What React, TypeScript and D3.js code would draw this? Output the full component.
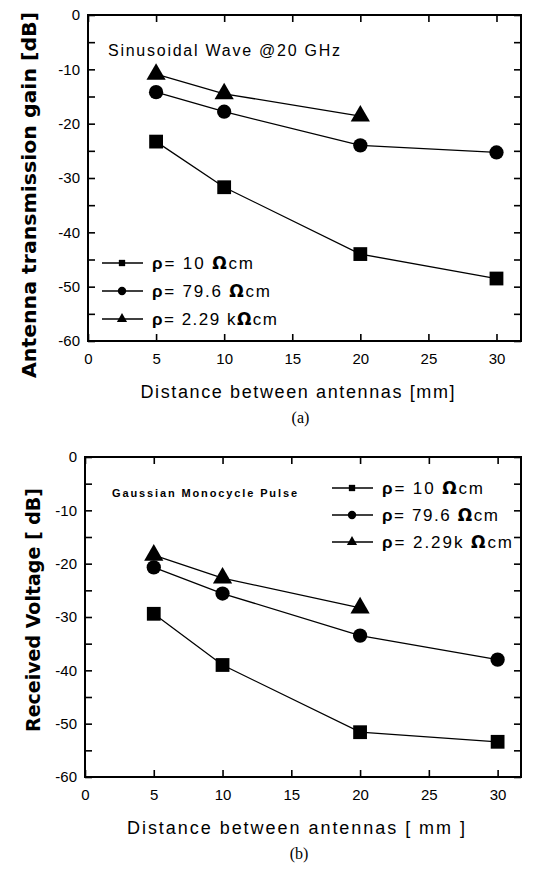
import React, { useEffect, useRef } from "react";
import * as d3 from "d3";

// distances [mm]
const distances = [5, 10, 20, 30];
const distancesShort = [5, 10, 20];
const xTicks = [0, 5, 10, 15, 20, 25, 30];
const yTicks = [0, -5, -10, -15, -20, -25, -30, -35, -40, -45, -50, -55, -60];

// (a) antenna transmission gain [dB]
const gainLow = [-23.3, -31.7, -44.0, -48.5];
const gainMid = [-14.2, -17.8, -24.0, -25.3];
const gainHigh = [-10.9, -14.5, -18.6];

// (b) received voltage [dB]
const voltLow = [-29.4, -39.0, -51.6, -53.4];
const voltMid = [-20.7, -25.6, -33.5, -38.0];
const voltHigh = [-18.4, -22.7, -28.3];

const legendA = [
  ["= 10 ", "cm"],
  ["= 79.6 ", "cm"],
  ["= 2.29 k", "cm"],
];
const legendB = [
  ["= 10 ", "cm"],
  ["= 79.6 ", "cm"],
  ["= 2.29k ", "cm"],
];

const FONT = "'DejaVu Sans', 'Liberation Sans', Arial, sans-serif";
const TICKFONT = "'Liberation Sans', Arial, sans-serif";

type Panel = {
  box: { left: number; right: number; top: number; bottom: number };
  xMax: number;
  low: number[];
  mid: number[];
  high: number[];
  yLabel: string;
  yLabelX: number;
  yLabelY: number;
  yLabelLen: number;
  xLabel: string;
  xLabelY: number;
  xLabelLen: number;
  tag: string;
  tagY: number;
  note: string;
  noteX: number;
  noteY: number;
  noteLen: number;
  noteBold: boolean;
  noteSize: number;
  legend: string[][];
  legendLens: number[];
  legendX: number;
  legendY: number;
  legendGap: number;
};

const panels: Panel[] = [
  {
    box: { left: 88, right: 521, top: 15, bottom: 341 },
    xMax: 31.8,
    low: gainLow,
    mid: gainMid,
    high: gainHigh,
    yLabel: "Antenna transmission gain [dB]",
    yLabelX: 36,
    yLabelY: 195,
    yLabelLen: 366,
    xLabel: "Distance between antennas [mm]",
    xLabelY: 398,
    xLabelLen: 314,
    tag: "(a)",
    tagY: 423,
    note: "Sinusoidal Wave @20 GHz",
    noteX: 108,
    noteY: 56,
    noteLen: 232,
    noteBold: false,
    noteSize: 16,
    legend: legendA,
    legendLens: [101, 118, 125],
    legendX: 102,
    legendY: 263,
    legendGap: 28,
  },
  {
    box: { left: 85, right: 521, top: 457, bottom: 777 },
    xMax: 31.7,
    low: voltLow,
    mid: voltMid,
    high: voltHigh,
    yLabel: "Received Voltage [ dB]",
    yLabelX: 40,
    yLabelY: 610,
    yLabelLen: 244,
    xLabel: "Distance between antennas [ mm ]",
    xLabelY: 834,
    xLabelLen: 338,
    tag: "(b)",
    tagY: 859,
    note: "Gaussian Monocycle Pulse",
    noteX: 112,
    noteY: 497,
    noteLen: 185,
    noteBold: true,
    noteSize: 11,
    legend: legendB,
    legendLens: [101, 116, 130],
    legendX: 332,
    legendY: 488,
    legendGap: 27,
  },
];

const drawPanel = (svg: d3.Selection<SVGSVGElement, unknown, null, undefined>, p: Panel) => {
  const { left, right, top, bottom } = p.box;
  const x = d3.scaleLinear().domain([0, p.xMax]).range([left, right]);
  const y = d3.scaleLinear().domain([0, -60]).range([top, bottom]);
  const g = svg.append("g");

  const styleAxis = (sel: any) => {
    sel.select(".domain").remove();
    sel.selectAll("line").attr("stroke", "#000").attr("stroke-width", 1.6);
    sel.selectAll("text").attr("fill", "#000").style("font-family", TICKFONT).style("font-size", "15px");
  };

  g.append("g")
    .attr("transform", `translate(${left},0)`)
    .call(
      d3.axisLeft(y).tickValues(yTicks).tickSize(-7).tickSizeOuter(0).tickPadding(8)
        .tickFormat((d: any) => (d % 10 === 0 ? String(d) : ""))
    )
    .call(styleAxis);
  g.append("g")
    .attr("transform", `translate(${right},0)`)
    .call(d3.axisRight(y).tickValues(yTicks).tickSize(-7).tickSizeOuter(0).tickFormat(() => ""))
    .call(styleAxis);
  g.append("g")
    .attr("transform", `translate(0,${bottom})`)
    .call(d3.axisBottom(x).tickValues(xTicks).tickSize(-7).tickSizeOuter(0).tickPadding(12).tickFormat(d3.format("d")))
    .call(styleAxis);
  g.append("g")
    .attr("transform", `translate(0,${top})`)
    .call(d3.axisTop(x).tickValues(xTicks).tickSize(-7).tickSizeOuter(0).tickFormat(() => ""))
    .call(styleAxis);

  g.append("rect")
    .attr("x", left)
    .attr("y", top)
    .attr("width", right - left)
    .attr("height", bottom - top)
    .attr("fill", "none")
    .attr("stroke", "#000")
    .attr("stroke-width", 2);

  const line = d3.line<[number, number]>().x((d) => x(d[0])).y((d) => y(d[1]));
  const series = [
    { xs: distances, ys: p.low, sym: d3.symbolSquare, size: 190 },
    { xs: distances, ys: p.mid, sym: d3.symbolCircle, size: 160 },
    { xs: distancesShort, ys: p.high, sym: d3.symbolTriangle, size: 160 },
  ];
  series.forEach((s) => {
    const pts = s.xs.map((d, i) => [d, s.ys[i]] as [number, number]);
    g.append("path").attr("d", line(pts)).attr("fill", "none").attr("stroke", "#000").attr("stroke-width", 1.3);
    g.selectAll(null)
      .data(pts)
      .join("path")
      .attr("transform", (d) => `translate(${x(d[0])},${y(d[1])})`)
      .attr("d", d3.symbol().type(s.sym).size(s.size)())
      .attr("fill", "#000");
  });

  // legend
  const legSyms = [
    { sym: d3.symbolSquare, size: 40 },
    { sym: d3.symbolCircle, size: 55 },
    { sym: d3.symbolTriangle, size: 45 },
  ];
  p.legend.forEach((row, i) => {
    const ly = p.legendY + i * p.legendGap;
    g.append("line").attr("x1", p.legendX).attr("x2", p.legendX + 41).attr("y1", ly).attr("y2", ly)
      .attr("stroke", "#000").attr("stroke-width", 1.5);
    g.append("path").attr("transform", `translate(${p.legendX + 20},${ly})`)
      .attr("d", d3.symbol().type(legSyms[i].sym).size(legSyms[i].size)()).attr("fill", "#000");
    const t = g.append("text").attr("x", p.legendX + 50).attr("y", ly + 6)
      .attr("textLength", p.legendLens[i]).attr("lengthAdjust", "spacing")
      .style("font-family", TICKFONT).style("font-size", "17px").attr("fill", "#000");
    t.append("tspan").style("font-weight", "bold").text("ρ");
    t.append("tspan").text(row[0]);
    t.append("tspan").style("font-weight", "bold").style("font-family", FONT).text("Ω");
    t.append("tspan").text(row[1]);
  });

  g.append("text")
    .attr("x", p.noteX)
    .attr("y", p.noteY)
    .attr("textLength", p.noteLen)
    .attr("lengthAdjust", "spacing")
    .style("font-family", TICKFONT)
    .style("font-size", `${p.noteSize}px`)
    .style("font-weight", p.noteBold ? "bold" : "normal")
    .text(p.note);

  g.append("text")
    .attr("transform", `translate(${p.yLabelX},${p.yLabelY}) rotate(-90)`)
    .attr("text-anchor", "middle")
    .attr("textLength", p.yLabelLen)
    .attr("lengthAdjust", "spacingAndGlyphs")
    .style("font-family", FONT)
    .style("font-size", "20px")
    .style("font-weight", "bold")
    .text(p.yLabel);

  g.append("text")
    .attr("x", (left + right) / 2 - 7)
    .attr("y", p.xLabelY)
    .attr("text-anchor", "middle")
    .attr("textLength", p.xLabelLen)
    .attr("lengthAdjust", "spacing")
    .style("font-family", TICKFONT)
    .style("font-size", "18px")
    .text(p.xLabel);

  g.append("text")
    .attr("x", (left + right) / 2 - 4)
    .attr("y", p.tagY)
    .attr("text-anchor", "middle")
    .style("font-family", "'Liberation Serif', serif")
    .style("font-size", "16px")
    .text(p.tag);
};

const App = () => {
  const svgRef = useRef<SVGSVGElement>(null);

  useEffect(() => {
    const svg = d3.select(svgRef.current as SVGSVGElement);
    svg.selectAll("*").remove();
    panels.forEach((p) => drawPanel(svg, p));
  }, []);

  return (
    <svg
      ref={svgRef}
      width={534}
      height={869}
      style={{ position: "absolute", left: 0, top: 0, background: "#fff" }}
    />
  );
};

export default App;
